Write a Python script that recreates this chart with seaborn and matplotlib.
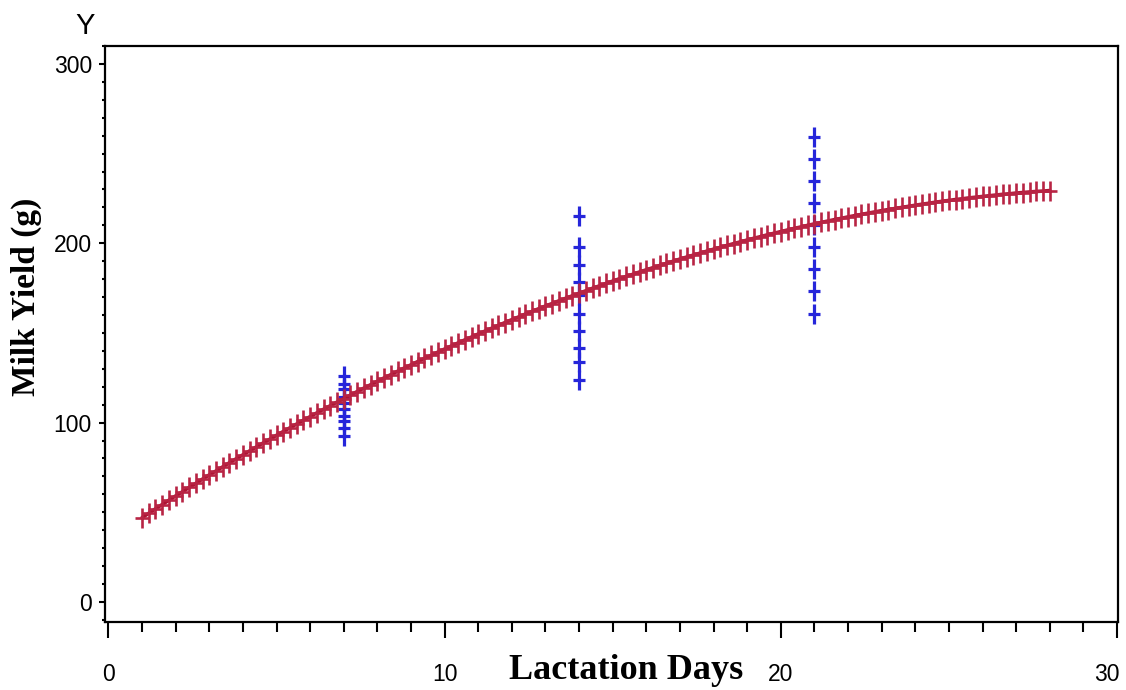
import numpy as np
import pandas as pd
import matplotlib
matplotlib.use('Agg')
import matplotlib.pyplot as plt
import matplotlib.transforms as mtransforms
from matplotlib.path import Path
from matplotlib.ticker import MultipleLocator
import seaborn as sns

# observed milk yield (blue crosses) at days 7, 14, 21
obs_days = [7] * 10 + [14] * 10 + [21] * 9
obs_yield = [125.7, 121.4, 118.8, 114.5, 110.8, 107.5, 103.7, 100.6, 96.7, 92.6,
             215.4, 197.8, 188.1, 178.6, 171.1, 160.8, 151.3, 141.7, 133.7, 124.0,
             259.2, 246.9, 234.6, 222.4, 210.1, 197.8, 185.6, 173.1, 160.8]

# predicted curve (red), read every 0.2 day
fit_days = [1.0, 1.2, 1.4, 1.6, 1.8, 2.0, 2.2, 2.4, 2.6, 2.8,
            3.0, 3.2, 3.4, 3.6, 3.8, 4.0, 4.2, 4.4, 4.6, 4.8,
            5.0, 5.2, 5.4, 5.6, 5.8, 6.0, 6.2, 6.4, 6.6, 6.8,
            7.0, 7.2, 7.4, 7.6, 7.8, 8.0, 8.2, 8.4, 8.6, 8.8,
            9.0, 9.2, 9.4, 9.6, 9.8, 10.0, 10.2, 10.4, 10.6, 10.8,
            11.0, 11.2, 11.4, 11.6, 11.8, 12.0, 12.2, 12.4, 12.6, 12.8,
            13.0, 13.2, 13.4, 13.6, 13.8, 14.0, 14.2, 14.4, 14.6, 14.8,
            15.0, 15.2, 15.4, 15.6, 15.8, 16.0, 16.2, 16.4, 16.6, 16.8,
            17.0, 17.2, 17.4, 17.6, 17.8, 18.0, 18.2, 18.4, 18.6, 18.8,
            19.0, 19.2, 19.4, 19.6, 19.8, 20.0, 20.2, 20.4, 20.6, 20.8,
            21.0, 21.2, 21.4, 21.6, 21.8, 22.0, 22.2, 22.4, 22.6, 22.8,
            23.0, 23.2, 23.4, 23.6, 23.8, 24.0, 24.2, 24.4, 24.6, 24.8,
            25.0, 25.2, 25.4, 25.6, 25.8, 26.0, 26.2, 26.4, 26.6, 26.8,
            27.0, 27.2, 27.4, 27.6, 27.8, 28.0]
fit_yield = [47.0, 49.4, 51.9, 54.3, 56.7, 59.1, 61.4, 63.8, 66.1, 68.5,
             70.8, 73.0, 75.3, 77.6, 79.8, 82.0, 84.2, 86.4, 88.6, 90.7,
             92.9, 95.0, 97.1, 99.2, 101.3, 103.3, 105.4, 107.4, 109.4, 111.4,
             113.4, 115.3, 117.3, 119.2, 121.1, 123.0, 124.9, 126.7, 128.6, 130.4,
             132.2, 134.0, 135.8, 137.5, 139.3, 141.0, 142.7, 144.4, 146.1, 147.7,
             149.4, 151.0, 152.6, 154.2, 155.8, 157.4, 158.9, 160.5, 162.0, 163.5,
             165.0, 166.4, 167.9, 169.3, 170.7, 172.1, 173.5, 174.9, 176.2, 177.6,
             178.9, 180.2, 181.5, 182.7, 184.0, 185.2, 186.4, 187.6, 188.8, 190.0,
             191.2, 192.3, 193.4, 194.5, 195.6, 196.7, 197.7, 198.8, 199.8, 200.8,
             201.8, 202.8, 203.7, 204.7, 205.6, 206.5, 207.4, 208.3, 209.1, 210.0,
             210.8, 211.6, 212.4, 213.2, 213.9, 214.7, 215.4, 216.1, 216.8, 217.5,
             218.2, 218.8, 219.4, 220.0, 220.6, 221.2, 221.8, 222.3, 222.9, 223.4,
             223.9, 224.4, 224.8, 225.3, 225.7, 226.1, 226.5, 226.9, 227.3, 227.6,
             228.0, 228.3, 228.6, 228.9, 229.1, 229.4]

x_ticks = [0, 10, 20, 30]
y_ticks = [0, 100, 200, 300]

obs_df = pd.DataFrame({'day': obs_days, 'yield': obs_yield})
fit_df = pd.DataFrame({'day': fit_days, 'yield': fit_yield})

sns.set_style('ticks')
plt.rcParams['text.color'] = 'black'
plt.rcParams['xtick.color'] = 'black'
plt.rcParams['ytick.color'] = 'black'
tick_font = ['Liberation Sans', 'DejaVu Sans']
serif_font = ['Liberation Serif', 'DejaVu Serif']

# tall narrow plus sign like the SAS symbol
plus = Path([(-0.65, 0), (0.65, 0), (0, -1), (0, 1)],
            [Path.MOVETO, Path.LINETO, Path.MOVETO, Path.LINETO])

red = '#AE1434'
blue = '#2626DA'

fig = plt.figure(figsize=(11.26, 6.90), dpi=100)
ax = fig.add_axes([0.0933, 0.0986, 0.8996, 0.8347])

sns.scatterplot(data=obs_df, x='day', y='yield', marker=plus, s=190,
                color=blue, edgecolor=blue, linewidth=2.3, ax=ax, zorder=2)
sns.lineplot(data=fit_df, x='day', y='yield', estimator=None, sort=False,
             color=red, lw=2.6, marker=plus, markersize=14.5,
             markeredgewidth=1.9, markeredgecolor='#B82444', ax=ax, zorder=3)

ax.set_xlim(-0.1, 30.03)
ax.set_ylim(-11.2, 310)
ax.set_xticks(x_ticks)
ax.set_yticks(y_ticks)
ax.xaxis.set_minor_locator(MultipleLocator(1))
ax.yaxis.set_minor_locator(MultipleLocator(10))
ax.tick_params(axis='x', which='major', direction='out', length=11.5, width=1.5, pad=18)
ax.tick_params(axis='x', which='minor', direction='out', length=7, width=1.5)
ax.tick_params(axis='y', which='major', direction='out', length=4.5, width=1.5, pad=5)
ax.tick_params(axis='y', which='minor', direction='out', length=2.2, width=1.5)
for lab in ax.get_xticklabels() + ax.get_yticklabels():
    lab.set_family(tick_font)
    lab.set_fontsize(16.5)
# keep the last x label inside the figure edge
last = ax.get_xticklabels()[-1]
last.set_transform(last.get_transform() +
                   mtransforms.ScaledTranslation(-7 / 72, 0, fig.dpi_scale_trans))
for sp in ax.spines.values():
    sp.set_visible(True)
    sp.set_linewidth(1.6)
    sp.set_color('black')

ax.set_xlabel('')
ax.set_ylabel('')
fig.text(0.556, 0.028, 'Lactation Days', ha='center', va='center',
         family=serif_font, fontweight='bold', fontsize=26)
fig.text(0.023, 0.57, 'Milk Yield (g)', ha='center', va='center', rotation=90,
         family=serif_font, fontweight='bold', fontsize=24)
fig.text(0.076, 0.962, 'Y', ha='center', va='center', family=tick_font, fontsize=21)

fig.savefig('out.png', dpi=100)
